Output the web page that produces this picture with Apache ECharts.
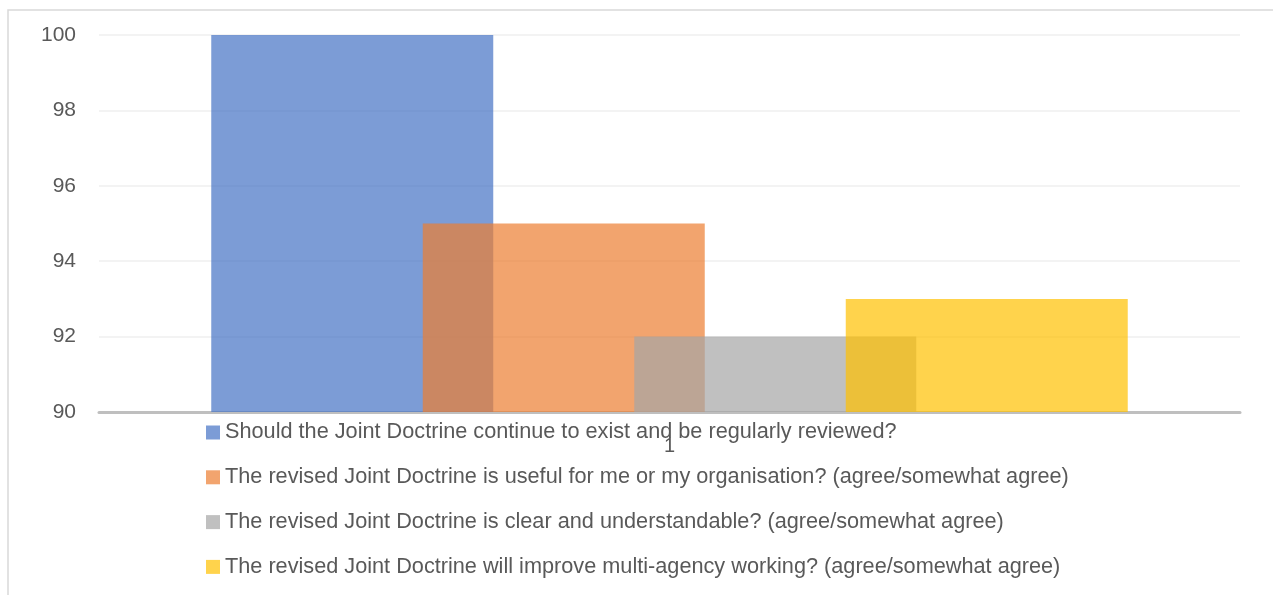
<!DOCTYPE html>
<html lang="en">
<head>
    <meta charset="UTF-8">
    <title>Joint Doctrine survey</title>
    <style>
        html, body { margin: 0; padding: 0; background: #fff; }
        #chart { width: 1273px; height: 595px; }
    </style>
</head>
<body>
<div id="chart"></div>
<script src="https://cdn.jsdelivr.net/npm/echarts@6/dist/echarts.min.js"></script>
<script>
    var categories = ['1']
    var seriesNames = [
        'Should the Joint Doctrine continue to exist and be regularly reviewed?',
        'The revised Joint Doctrine is useful for me or my organisation? (agree/somewhat agree)',
        'The revised Joint Doctrine is clear and understandable? (agree/somewhat agree)',
        'The revised Joint Doctrine will improve multi-agency working? (agree/somewhat agree)'
    ]
    var reviewed = [100]
    var useful = [95]
    var clear = [92]
    var multiAgency = [93]
    var colors = ['#4472C4', '#ED7D31', '#A5A5A5', '#FFC000']

    var font = 'Liberation Sans'
    var values = [reviewed, useful, clear, multiAgency]
    var chart = echarts.init(document.getElementById('chart'))

    var series = values.map(function (v, i) {
        return {
            name: seriesNames[i],
            type: 'bar',
            data: v,
            barWidth: 282,
            barGap: '-25%',
            itemStyle: { color: colors[i], opacity: 0.7 },
            emphasis: { disabled: true }
        }
    })

    chart.setOption({
        animation: false,
        color: colors,
        graphic: [{
            type: 'rect',
            shape: { x: 8, y: 10, width: 1300, height: 620 },
            style: { fill: 'none', stroke: '#d9d9d9', lineWidth: 1.5 },
            silent: true
        }],
        grid: { left: 99, right: 33, top: 35, bottom: 183 },
        legend: {
            orient: 'vertical',
            left: 206,
            top: 421.5,
            padding: 0,
            itemWidth: 14,
            itemHeight: 14,
            itemGap: 22.8,
            icon: 'rect',
            textStyle: { fontFamily: font, fontSize: 21.7, lineHeight: 22, color: '#595959' },
            data: seriesNames.map(function (n, i) {
                return { name: n, itemStyle: { color: colors[i], opacity: 0.7 } }
            })
        },
        xAxis: {
            type: 'category',
            data: categories,
            axisLine: { lineStyle: { color: '#bfbfbf', width: 3 } },
            axisTick: { show: false },
            axisLabel: { fontFamily: font, fontSize: 20, color: '#595959', margin: 24 }
        },
        yAxis: {
            type: 'value',
            min: 90,
            max: 100,
            interval: 2,
            axisLine: { show: false },
            axisTick: { show: false },
            splitLine: { lineStyle: { color: '#efefef', width: 1.5 } },
            axisLabel: { fontFamily: font, fontSize: 21, color: '#595959', margin: 23 }
        },
        series: series
    })
</script>
</body>
</html>
